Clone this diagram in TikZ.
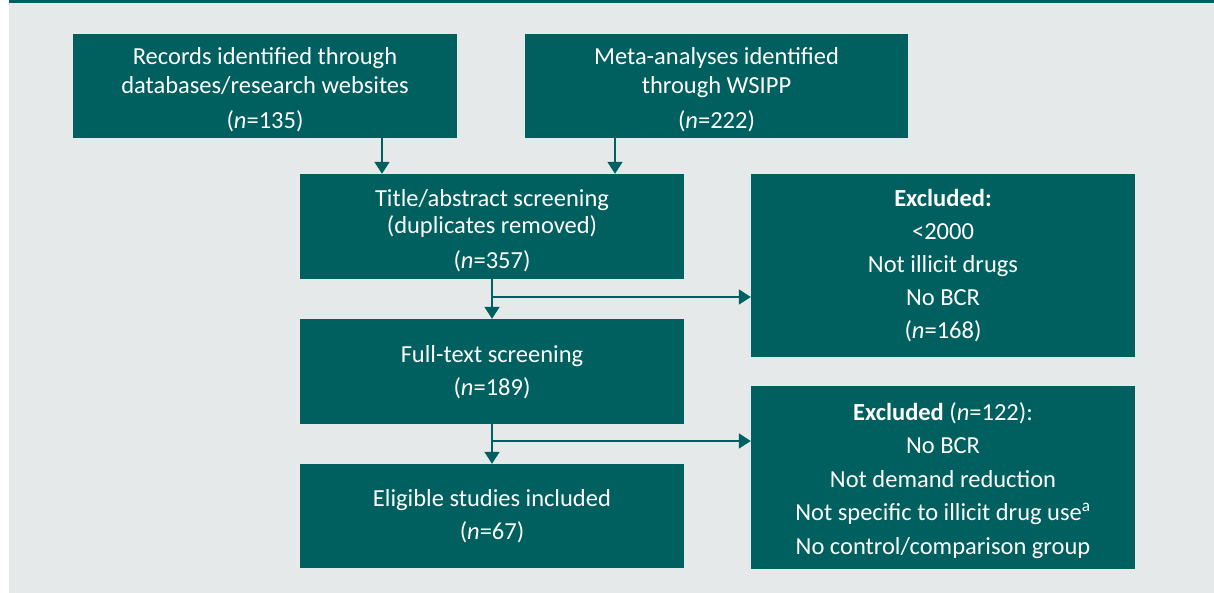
\documentclass[tikz,border=0pt]{standalone}
\usepackage{fontspec}
\setmainfont{Carlito}
\usetikzlibrary{arrows.meta}
\definecolor{tealbox}{HTML}{005F5F}
\definecolor{bggray}{HTML}{E5E9EA}
\begin{document}
\begin{tikzpicture}[x=1pt,y=-1pt,
  box/.style={fill=tealbox, inner sep=0pt, minimum width=384pt, minimum height=104pt},
  txt/.style={text=white, inner sep=0pt, align=center},
  fontA/.style={font=\fontsize{24.5}{29}\selectfont},
  fontB/.style={font=\fontsize{24.5}{27}\selectfont},
  fontC/.style={font=\fontsize{24.5}{33}\selectfont},
  fontD/.style={font=\fontsize{24.5}{33.5}\selectfont},
  arr/.style={draw=tealbox, line width=1.7pt, -{Triangle[width=15pt,length=12pt]}}]
\useasboundingbox (0,0) rectangle (1214,593);
\fill[bggray] (9,3) rectangle (1214,593);
\fill[tealbox] (9,0) rectangle (1214,3);

% boxes
\node[box] (rec) at (265,86) {};
\node[box, minimum width=383pt] (meta) at (716.5,86) {};
\node[box, minimum height=105pt] (title) at (492,226.5) {};
\node[box, minimum height=105pt] (full) at (492,371.5) {};
\node[box] (elig) at (492,516) {};
\node[box, minimum height=183pt] (ex1) at (943,265.5) {};
\node[box, minimum height=183pt] (ex2) at (943,477.5) {};

% texts
\node[txt, fontA] (rect) at (265,89.5) {Records identified through\\databases/research websites\\[6pt](\textit{n}=135)};
\node[txt, fontA] (metat) at (716.5,89.5) {Meta-analyses identified\\through WSIPP\\[6pt](\textit{n}=222)};
\node[txt, fontB] (titlet) at (492,230.5) {Title/abstract screening\\(duplicates removed)\\[8pt](\textit{n}=357)};
\node[txt, fontC] (fullt) at (492,372.5) {Full-text screening\\(\textit{n}=189)};
\node[txt, fontC] (eligt) at (492,516.5) {Eligible studies included\\(\textit{n}=67)};
\node[txt, fontC] (ex1t) at (943,265.5) {\textbf{Excluded:}\\<2000\\Not illicit drugs\\No BCR\\(\textit{n}=168)};
\node[txt, fontD] (ex2t) at (943,480.5) {\textbf{Excluded} (\textit{n}=122):\\No BCR\\Not demand reduction\\Not specific to illicit drug use\textsuperscript{a}\\No control/comparison group};

% connectors
\coordinate (c1) at (382,0);
\coordinate (c2) at (615,0);
\coordinate (b1) at (492,297);
\coordinate (b2) at (492,441);

\draw[arr] (c1 |- rec.south) -- (c1 |- title.north);
\draw[arr] (c2 |- meta.south) -- (c2 |- title.north);
\draw[arr] (title.south) -- (full.north);
\draw[arr] (full.south) -- (elig.north);
\draw[arr] (b1) -- (ex1.west |- b1);
\draw[arr] (b2) -- (ex2.west |- b2);
\end{tikzpicture}
\end{document}
